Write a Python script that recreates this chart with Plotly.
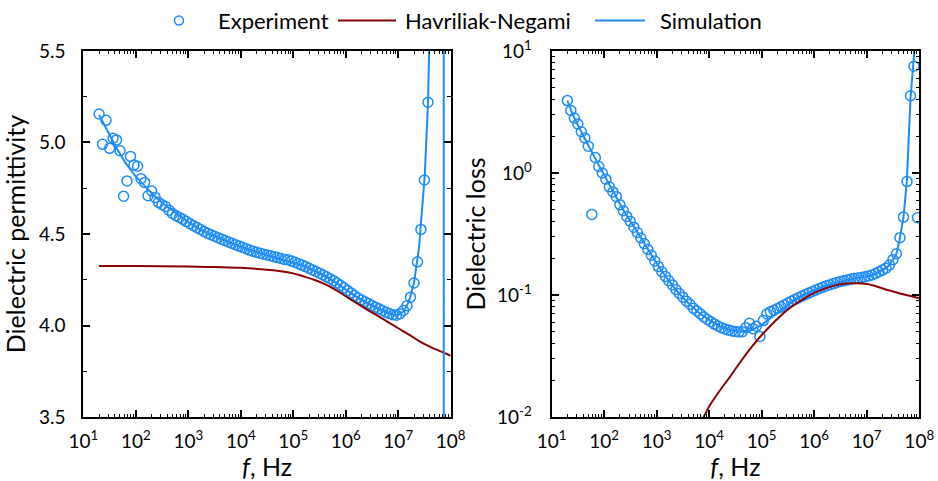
import plotly.graph_objects as go

# ---------------- data ----------------
freq = [
    2.00e1, 2.33e1, 2.71e1, 3.16e1, 3.69e1, 4.30e1, 5.01e1, 5.85e1, 6.81e1, 7.94e1, 9.26e1,
    1.08e2, 1.26e2, 1.47e2, 1.71e2, 2.00e2, 2.33e2, 2.71e2, 3.16e2, 3.69e2, 4.30e2, 5.01e2, 5.85e2, 6.81e2, 7.94e2, 9.26e2,
    1.08e3, 1.26e3, 1.47e3, 1.71e3, 2.00e3, 2.33e3, 2.71e3, 3.16e3, 3.69e3, 4.30e3, 5.01e3, 5.85e3, 6.81e3, 7.94e3, 9.26e3,
    1.08e4, 1.26e4, 1.47e4, 1.71e4, 2.00e4, 2.33e4, 2.71e4, 3.16e4, 3.69e4, 4.30e4, 5.01e4, 5.85e4, 6.81e4, 7.94e4, 9.26e4,
    1.08e5, 1.26e5, 1.47e5, 1.71e5, 2.00e5, 2.33e5, 2.71e5, 3.16e5, 3.69e5, 4.30e5, 5.01e5, 5.85e5, 6.81e5, 7.94e5, 9.26e5,
    1.08e6, 1.26e6, 1.47e6, 1.71e6, 2.00e6, 2.33e6, 2.71e6, 3.16e6, 3.69e6, 4.30e6, 5.01e6, 5.85e6, 6.81e6, 7.94e6, 9.26e6,
    1.08e7, 1.26e7, 1.47e7, 1.71e7, 2.00e7, 2.33e7, 2.71e7, 3.16e7, 3.69e7, 4.30e7, 5.01e7, 5.85e7, 6.81e7, 7.94e7, 9.26e7,
]

# Experiment: dielectric permittivity (visible points only)
exp_perm = [
    5.156, 4.990, 5.121, 4.968, 5.023, 5.014, 4.955, 4.706, 4.790, 4.924, 4.877,
    4.870, 4.802, 4.782, 4.709, 4.735, 4.700, 4.673, 4.660, 4.650, 4.630, 4.612, 4.600, 4.590, 4.580, 4.568,
    4.556, 4.545, 4.535, 4.525, 4.514, 4.504, 4.496, 4.488, 4.480, 4.472, 4.464, 4.456, 4.449, 4.441, 4.434,
    4.427, 4.420, 4.412, 4.406, 4.400, 4.395, 4.390, 4.385, 4.381, 4.376, 4.371, 4.366, 4.361, 4.360, 4.352,
    4.346, 4.338, 4.330, 4.322, 4.313, 4.304, 4.295, 4.286, 4.276, 4.266, 4.256, 4.245, 4.233, 4.220, 4.206,
    4.192, 4.178, 4.164, 4.151, 4.140, 4.130, 4.120, 4.110, 4.100, 4.091, 4.082, 4.073, 4.065, 4.059, 4.056,
    4.064, 4.082, 4.108, 4.155, 4.232, 4.348, 4.525, 4.795, 5.220,
]

# Experiment: dielectric loss
exp_loss = [
    3.92, 3.26, 2.82, 2.52, 2.18, 1.94, 1.66, 0.458, 1.34, 1.13, 1.00,
    0.89, 0.77, 0.70, 0.64, 0.55, 0.49, 0.44, 0.40, 0.36, 0.325, 0.293, 0.263, 0.236, 0.212, 0.190,
    0.171, 0.155, 0.142, 0.131, 0.121, 0.111, 0.103, 0.096, 0.089, 0.084, 0.078, 0.074, 0.070, 0.066, 0.063,
    0.0605, 0.0578, 0.0558, 0.054, 0.0527, 0.0516, 0.0508, 0.0502, 0.0498, 0.0500, 0.0540, 0.0586, 0.0530, 0.0555, 0.0458,
    0.0617, 0.0700, 0.0730, 0.0750, 0.0775, 0.0800, 0.0830, 0.0860, 0.0890, 0.0920, 0.0950, 0.0980, 0.1010, 0.1040, 0.1070,
    0.1100, 0.1130, 0.1160, 0.1190, 0.1215, 0.1240, 0.1265, 0.1290, 0.1310, 0.1330, 0.1350, 0.1365, 0.1380, 0.1395, 0.1410,
    0.1430, 0.1460, 0.1500, 0.1550, 0.1600, 0.1660, 0.1760, 0.1950, 0.2180, 0.2950, 0.4350, 0.8500, 4.300, 7.500, 0.430,
]

# Simulation: permittivity
sim_f_perm = [2.0e1, 2.5e1, 3.2e1, 4.0e1, 5.0e1, 6.3e1, 8.0e1, 1.0e2, 1.6e2, 2.5e2, 4.0e2, 6.3e2,
              1.0e3, 1.6e3, 2.5e3, 4.0e3, 6.3e3, 1.0e4, 1.6e4, 2.5e4, 4.0e4, 6.3e4,
              1.0e5, 1.6e5, 2.5e5, 4.0e5, 6.3e5, 1.0e6, 1.6e6, 2.5e6, 4.0e6, 6.3e6, 8.0e6,
              1.0e7, 1.26e7, 1.6e7, 2.0e7, 2.5e7, 3.2e7, 3.7e7, 4.2e7, 5.0e7, 6.3e7, 7.3e7, 7.45e7, 8.5e7, 1.0e8]
sim_perm = [5.150, 5.100, 5.040, 4.985, 4.935, 4.890, 4.850, 4.815, 4.752, 4.697, 4.648, 4.607,
            4.567, 4.530, 4.500, 4.476, 4.452, 4.430, 4.410, 4.394, 4.378, 4.363,
            4.347, 4.326, 4.300, 4.271, 4.236, 4.196, 4.157, 4.125, 4.094, 4.070, 4.060,
            4.058, 4.076, 4.132, 4.232, 4.430, 4.820, 5.220, 5.620, 7.000, 25.0, 300.0, -300.0, -20.0, -6.0]

# Simulation: loss
sim_f_loss = [2.0e1, 2.5e1, 3.2e1, 4.0e1, 5.0e1, 6.3e1, 8.0e1, 1.0e2, 1.6e2, 2.5e2, 4.0e2, 6.3e2,
              1.0e3, 1.6e3, 2.5e3, 4.0e3, 6.3e3, 1.0e4, 1.6e4, 2.5e4, 4.0e4, 6.3e4,
              1.0e5, 1.6e5, 2.5e5, 4.0e5, 6.3e5, 1.0e6, 1.6e6, 2.5e6, 4.0e6, 6.3e6,
              1.0e7, 1.26e7, 1.6e7, 2.0e7, 2.5e7, 3.2e7, 3.7e7, 4.2e7, 5.0e7, 5.8e7, 6.8e7, 7.9e7, 8.5e7, 1.0e8]
sim_loss = [3.92, 3.05, 2.45, 2.02, 1.68, 1.40, 1.15, 0.96, 0.67, 0.47, 0.345, 0.25,
            0.182, 0.136, 0.106, 0.086, 0.072, 0.0625, 0.0555, 0.0515, 0.0500, 0.0515,
            0.0570, 0.0665, 0.0775, 0.0895, 0.1000, 0.1085, 0.1180, 0.1250, 0.1320, 0.1370,
            0.1420, 0.1450, 0.1525, 0.1600, 0.1700, 0.1960, 0.2200, 0.2800, 0.4300, 0.85, 4.0, 9.0, 14.0, 40.0]

# Havriliak-Negami fit
hn_f_perm = [2.0e1, 1.0e2, 1.0e3, 3.2e3, 1.0e4, 3.2e4, 6.3e4, 1.0e5, 1.6e5, 2.5e5, 4.0e5, 6.3e5,
             1.0e6, 1.6e6, 2.5e6, 4.0e6, 6.3e6, 1.0e7, 1.6e7, 2.5e7, 4.0e7, 6.3e7, 1.0e8]
hn_perm = [4.325, 4.325, 4.322, 4.320, 4.315, 4.305, 4.295, 4.285, 4.268, 4.250, 4.226, 4.196,
           4.160, 4.123, 4.088, 4.054, 4.020, 3.985, 3.950, 3.915, 3.885, 3.860, 3.835]

hn_f_loss = [6.3e3, 7.8e3, 1.0e4, 1.6e4, 2.5e4, 4.0e4, 6.3e4, 1.0e5, 1.6e5, 2.5e5, 4.0e5, 6.3e5,
             1.0e6, 1.6e6, 2.5e6, 4.0e6, 6.3e6, 1.0e7, 1.6e7, 2.5e7, 4.0e7, 6.3e7, 1.0e8]
hn_loss = [0.0089, 0.0100, 0.0122, 0.0165, 0.0214, 0.0285, 0.0370, 0.0470, 0.0580, 0.0700, 0.0820, 0.0930,
           0.1040, 0.1130, 0.1200, 0.1240, 0.1250, 0.1230, 0.1170, 0.1100, 0.1040, 0.0990, 0.0940]

# tick labels
x_tickvals = [1e1, 1e2, 1e3, 1e4, 1e5, 1e6, 1e7, 1e8]
x_ticktext = ["10<sup>1</sup>", "10<sup>2</sup>", "10<sup>3</sup>", "10<sup>4</sup>",
              "10<sup>5</sup>", "10<sup>6</sup>", "10<sup>7</sup>", "10<sup>8</sup>"]
perm_tickvals = [3.5, 4.0, 4.5, 5.0, 5.5]
perm_ticktext = ["3.5", "4.0", "4.5", "5.0", "5.5"]
loss_tickvals = [1e-2, 1e-1, 1e0, 1e1]
loss_ticktext = ["10<sup>-2</sup>", "10<sup>-1</sup>", "10<sup>0</sup>", "10<sup>1</sup>"]

legend_labels = ["Experiment", "Havriliak-Negami", "Simulation"]

# ---------------- figure ----------------
BLUE = "#1E8CF8"
RED = "#8B0000"
FONT = "Lato"
W, H = 938, 481

fig = go.Figure()

marker_style = dict(symbol="circle-open", size=10, color=BLUE, line=dict(width=1.5, color=BLUE))

fig.add_trace(go.Scatter(x=freq[:len(exp_perm)], y=exp_perm, mode="markers", name=legend_labels[0],
                         marker=marker_style, xaxis="x", yaxis="y"))
fig.add_trace(go.Scatter(x=hn_f_perm, y=hn_perm, mode="lines", name=legend_labels[1],
                         line=dict(color=RED, width=2), line_shape="spline", xaxis="x", yaxis="y"))
fig.add_trace(go.Scatter(x=sim_f_perm, y=sim_perm, mode="lines", name=legend_labels[2],
                         line=dict(color=BLUE, width=2), xaxis="x", yaxis="y"))

fig.add_trace(go.Scatter(x=freq, y=exp_loss, mode="markers", name=legend_labels[0],
                         marker=marker_style, xaxis="x2", yaxis="y2"))
fig.add_trace(go.Scatter(x=hn_f_loss, y=hn_loss, mode="lines", name=legend_labels[1],
                         line=dict(color=RED, width=2), line_shape="spline", xaxis="x2", yaxis="y2"))
fig.add_trace(go.Scatter(x=sim_f_loss, y=sim_loss, mode="lines", name=legend_labels[2],
                         line=dict(color=BLUE, width=2), xaxis="x2", yaxis="y2"))

# ---- legend drawn manually (long line symbols, as in the reference) ----
def px(x):
    return x / W

def py(y):
    return 1 - y / H

LEG_Y = 20.5
shapes = [
    dict(type="circle", xref="paper", yref="paper",
         x0=px(174.5), x1=px(183.5), y0=py(LEG_Y + 4.5), y1=py(LEG_Y - 4.5),
         line=dict(color=BLUE, width=1.5), fillcolor="rgba(0,0,0,0)"),
    dict(type="line", xref="paper", yref="paper", x0=px(338), x1=px(396), y0=py(LEG_Y), y1=py(LEG_Y),
         line=dict(color=RED, width=2)),
    dict(type="line", xref="paper", yref="paper", x0=px(595), x1=px(645), y0=py(LEG_Y), y1=py(LEG_Y),
         line=dict(color=BLUE, width=2)),
]
leg_font = dict(family=FONT, size=22, color="black")
annotations = [
    dict(text=legend_labels[0], x=px(216), y=py(LEG_Y), xref="paper", yref="paper",
         xanchor="left", yanchor="middle", showarrow=False, font=leg_font),
    dict(text=legend_labels[1], x=px(403), y=py(LEG_Y), xref="paper", yref="paper",
         xanchor="left", yanchor="middle", showarrow=False, font=leg_font),
    dict(text=legend_labels[2], x=px(658), y=py(LEG_Y), xref="paper", yref="paper",
         xanchor="left", yanchor="middle", showarrow=False, font=leg_font),
]

log_minor_vals = [m * 10 ** e for e in range(-3, 9) for m in range(2, 10)]

axis_common = dict(showline=True, linewidth=2, linecolor="black", mirror="allticks",
                   ticks="inside", ticklen=7, tickwidth=1.5, tickcolor="black",
                   showgrid=False, zeroline=False, automargin=False,
                   tickfont=dict(family=FONT, size=19, color="black"))

title_font = dict(family=FONT, size=25, color="black")

xlog = dict(type="log", range=[1, 8], tickmode="array", tickvals=x_tickvals, ticktext=x_ticktext,
            minor=dict(ticks="inside", ticklen=3.5, tickwidth=1, tickcolor="black",
                       tickmode="array", tickvals=log_minor_vals),
            title=dict(text="<i>f</i>, Hz", font=title_font, standoff=0),
            ticklabelstandoff=6)

ydom = [0.133, 0.894]

fig.update_layout(
    width=W, height=H,
    margin=dict(l=0, r=0, t=0, b=0, autoexpand=False),
    paper_bgcolor="white", plot_bgcolor="white",
    font=dict(family=FONT, size=19, color="black"),
    showlegend=False,
    shapes=shapes,
    annotations=annotations,
    xaxis=dict(domain=[0.0888, 0.4805], anchor="y", **xlog, **axis_common),
    yaxis=dict(domain=ydom, anchor="x", range=[3.5, 5.5], tickmode="array",
               tickvals=perm_tickvals, ticktext=perm_ticktext,
               minor=dict(ticks="inside", ticklen=3.5, tickwidth=1, tickcolor="black", dtick=0.25),
               title=dict(text="Dielectric permittivity", font=title_font, standoff=6),
               ticklabelstandoff=12, **axis_common),
    xaxis2=dict(domain=[0.588, 0.980], anchor="y2", **xlog, **axis_common),
    yaxis2=dict(domain=ydom, anchor="x2", type="log", range=[-2, 1], tickmode="array",
                tickvals=loss_tickvals, ticktext=loss_ticktext,
                minor=dict(ticks="inside", ticklen=3.5, tickwidth=1, tickcolor="black",
                           tickmode="array", tickvals=log_minor_vals),
                title=dict(text="Dielectric loss", font=title_font, standoff=4),
                ticklabelstandoff=14, **axis_common),
)

fig.write_html("out.html")
